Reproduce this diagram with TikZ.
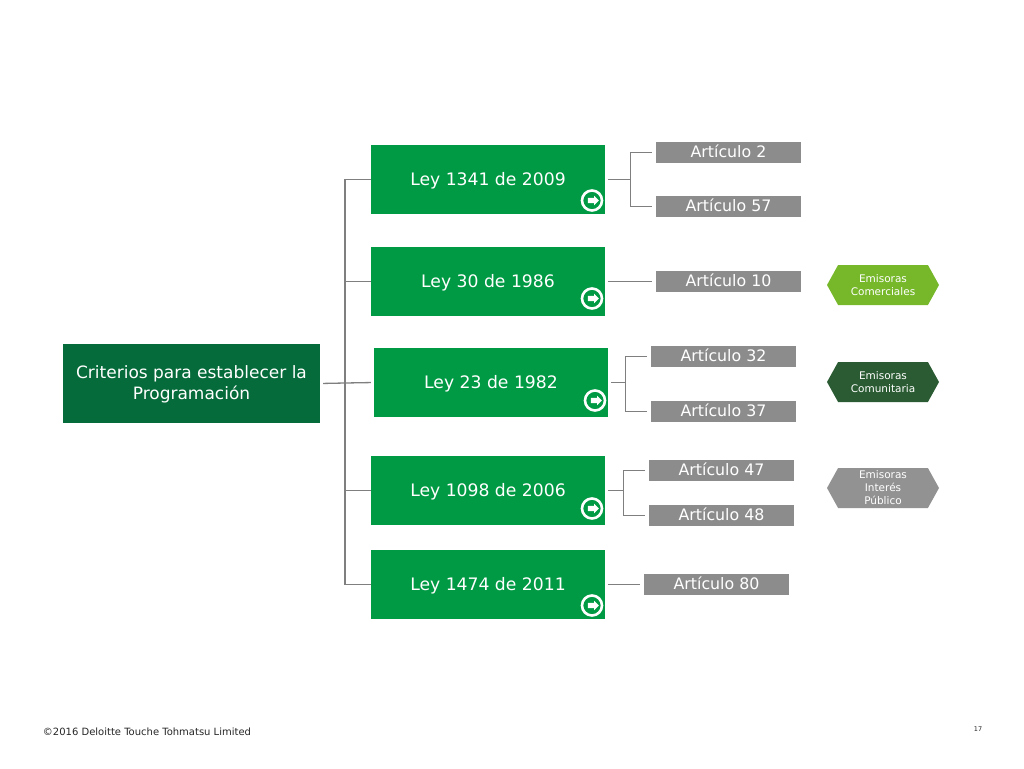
\documentclass[tikz,border=0pt]{standalone}
\usepackage{fontspec}
\setmainfont{DejaVu Sans}
\usetikzlibrary{shapes.symbols,shapes.arrows}
\definecolor{leygreen}{HTML}{009A44}
\definecolor{rootgreen}{HTML}{066B3A}
\definecolor{artgray}{HTML}{8C8C8C}
\definecolor{linegray}{HTML}{7F7F7F}
\definecolor{hexlime}{HTML}{76B82A}
\definecolor{hexdark}{HTML}{2A5B32}
\definecolor{hexgray}{HTML}{929292}
\begin{document}
\begin{tikzpicture}[x=1pt,y=-1pt]
 \tikzstyle{root} = [fill=rootgreen,text=white,font=\fontsize{17}{21}\selectfont,minimum width=257pt,minimum height=79pt,align=center,inner sep=0pt,text depth=1pt]
 \tikzstyle{ley} = [fill=leygreen,text=white,font=\fontsize{17.2}{20}\selectfont,minimum width=234pt,minimum height=69pt,inner sep=0pt,text height=13pt,text depth=2pt]
 \tikzstyle{art} = [fill=artgray,text=white,font=\fontsize{15.8}{18}\selectfont,minimum width=145pt,minimum height=21pt,inner sep=0pt,text height=12pt,text depth=3pt]
 \tikzstyle{hex} = [signal,signal to=west and east,signal pointer angle=122,text=white,font=\fontsize{10.5}{13}\selectfont,minimum width=112pt,minimum height=40pt,inner sep=0pt,align=center]
 \tikzstyle{ring} = [circle,draw=white,line width=2.6pt,minimum size=20pt,inner sep=0pt]
 \tikzstyle{tip} = [single arrow,fill=white,single arrow head extend=2pt,single arrow head indent=0pt,single arrow tip angle=90,minimum height=11pt,inner xsep=0pt,inner ysep=2.5pt]
 \tikzstyle{b} = [draw=linegray,line width=1.3pt]
 \tikzstyle{s} = [b,shorten <=3pt]
 \tikzstyle{e} = [b,shorten >=4pt]
 \useasboundingbox (0,0) rectangle (1024,768);
 \path
 (191.5,383.5) node[root] (Root) {Criterios para establecer la\\Programación}
 (Root) ++(296.5,-204) node[ley] (Ley1) {Ley 1341 de 2009}
 (Ley1) ++(0,102) node[ley] (Ley2) {Ley 30 de 1986}
 (Ley2) ++(3,101) node[ley] (Ley3) {Ley 23 de 1982}
 (Ley3) ++(-3,108) node[ley] (Ley4) {Ley 1098 de 2006}
 (Ley4) ++(0,94) node[ley] (Ley5) {Ley 1474 de 2011}
 (Ley1) ++(240.5,-27) node[art] (Art2) {Artículo 2}
 (Art2) ++(0,54) node[art] (Art57) {Artículo 57}
 (Art57) ++(0,75) node[art] (Art10) {Artículo 10}
 (Art10) ++(-5,75) node[art] (Art32) {Artículo 32}
 (Art32) ++(0,55) node[art] (Art37) {Artículo 37}
 (Art37) ++(-2,59) node[art] (Art47) {Artículo 47}
 (Art47) ++(0,45) node[art] (Art48) {Artículo 48}
 (Art48) ++(-5,69) node[art] (Art80) {Artículo 80}
 (883,285) node[hex,fill=hexlime] (HexCom) {Emisoras\\Comerciales}
 (HexCom) ++(0,97) node[hex,fill=hexdark] (HexCom2) {Emisoras\\Comunitaria}
 (HexCom2) ++(0,106) node[hex,fill=hexgray] (HexPub) {Emisoras\\Interés\\Público}
 (147,732) node[font=\fontsize{10}{12}\selectfont,text=black!85] (Foot) {©2016 Deloitte Touche Tohmatsu Limited}
 (978,729) node[font=\fontsize{6.5}{8}\selectfont,text=black!85] (Page) {17}
 ;
 % arrow badges
 \foreach \n/\y in {1/21,2/17,3/18,4/18,5/21}
  \path (Ley\n) ++(104,\y) node[ring] (Go\n) {} (Go\n) node[tip] {};
 % trunk
 \coordinate (Hub) at (345,383);
 \path [s] (Root.east) -- (Hub);
 \path [b,shorten >=3pt] (Hub) -- (Ley3.west);
 \path [b] (Ley1.west) -| (Hub);
 \path [b] (Ley2.west) -| (Hub);
 \path [b] (Ley4.west) -| (Hub);
 \path [b] (Ley5.west) -| (Hub);
 % branches
 \path (Ley1.east) ++(25,0) coordinate (J1);
 \path (Ley3.east) ++(17,0) coordinate (J3);
 \path (Ley4.east) ++(18,0) coordinate (J4);
 \path [s] (Ley1.east) -- (J1);
 \path [e] (J1) |- (Art2.west);
 \path [e] (J1) |- (Art57.west);
 \path [s,e] (Ley2.east) -- (Art10.west);
 \path [s] (Ley3.east) -- (J3);
 \path [e] (J3) |- (Art32.west);
 \path [e] (J3) |- (Art37.west);
 \path [s] (Ley4.east) -- (J4);
 \path [e] (J4) |- (Art47.west);
 \path [e] (J4) |- (Art48.west);
 \path [s,e] (Ley5.east) -- (Art80.west);
\end{tikzpicture}
\end{document}
